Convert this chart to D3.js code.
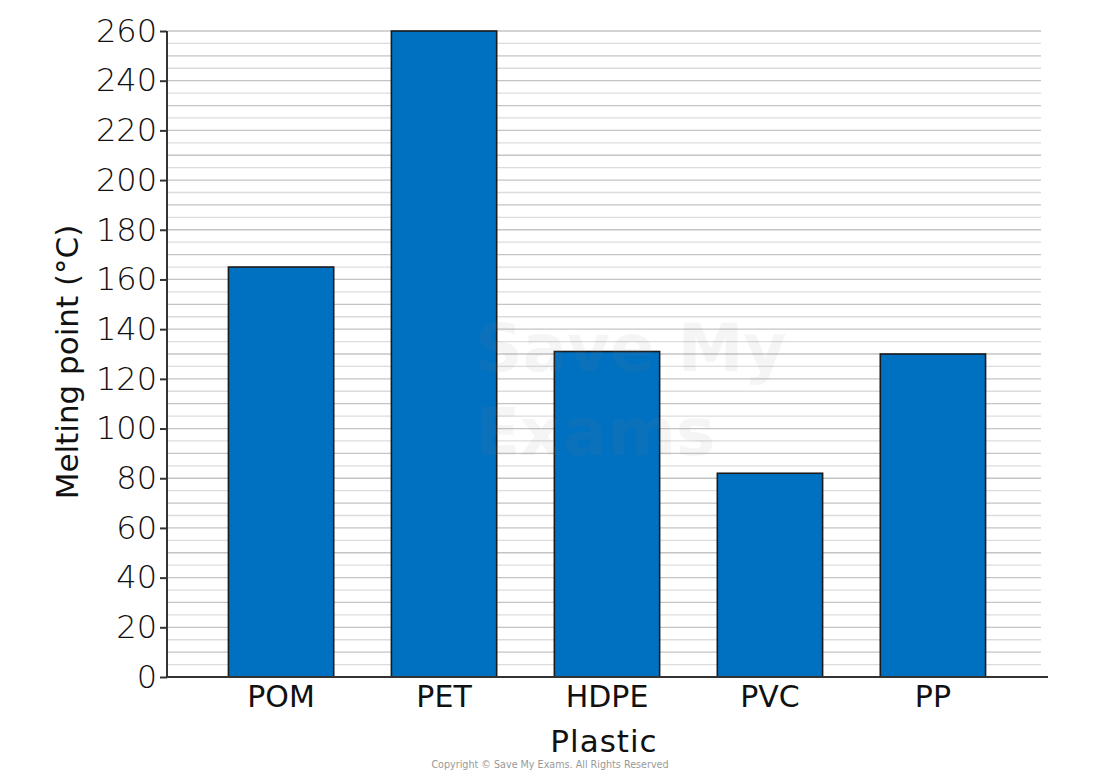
<!DOCTYPE html>
<html>
<head>
<meta charset="utf-8">
<script src="https://cdn.jsdelivr.net/npm/d3@7"></script>
<style>
  body { margin: 0; background: #fff; }
  text { font-family: "DejaVu Sans", sans-serif; }
</style>
</head>
<body>
<div id="wrapper"></div>
<script>
// data
const plastics = ["POM", "PET", "HDPE", "PVC", "PP"]
const meltingPoints = [165, 260, 131, 82, 130]
const yTicks = [0, 20, 40, 60, 80, 100, 120, 140, 160, 180, 200, 220, 240, 260]
const yGrid = d3.range(5, 261, 5)

function drawChart(){
    const dimensions = {
        width: 1100,
        height: 775,
        margin: { top: 31, right: 53, bottom: 98, left: 167 }
    }
    dimensions.boundedWidth = dimensions.width - dimensions.margin.left - dimensions.margin.right
    dimensions.boundedHeight = dimensions.height - dimensions.margin.top - dimensions.margin.bottom

    const svg = d3.select("#wrapper").append("svg")
        .attr("width", dimensions.width)
        .attr("height", dimensions.height)

    const bounds = svg.append("g")
        .attr("transform", `translate(${dimensions.margin.left},${dimensions.margin.top})`)

    const yScale = d3.scaleLinear()
        .domain([0, 260])
        .range([dimensions.boundedHeight, 0])

    const xScale = d3.scaleBand()
        .domain(plastics)
        .range([0, dimensions.boundedWidth])
        .paddingInner(0.354)
        .paddingOuter(0.377)

    // gridlines every 5
    bounds.append("g").selectAll("line")
        .data(yGrid)
        .join("line")
        .attr("x1", 1)
        .attr("x2", dimensions.boundedWidth - 6)
        .attr("y1", d => yScale(d))
        .attr("y2", d => yScale(d))
        .attr("stroke", (d, i) => i % 2 ? "#c4c4c4" : "#dcdcdc")
        .attr("stroke-width", 1.3)

    // bars
    const data = plastics.map((p, i) => ({ name: p, value: meltingPoints[i] }))
    bounds.append("g").selectAll("rect")
        .data(data)
        .join("rect")
        .attr("x", d => xScale(d.name))
        .attr("y", d => yScale(d.value))
        .attr("width", xScale.bandwidth())
        .attr("height", d => dimensions.boundedHeight - yScale(d.value))
        .attr("fill", "#0070c0")
        .attr("stroke", "#1a1a1a")
        .attr("stroke-width", 1.6)

    // watermark
    const wm = bounds.append("g")
        .attr("fill", "#888")
        .attr("opacity", 0.08)
        .style("font-weight", "bold")
        .style("font-size", "66px")
    wm.append("text").attr("x", 308).attr("y", 340).text("Save My")
    wm.append("text").attr("x", 308).attr("y", 424).text("Exams")

    // axes
    const yAxis = bounds.append("g")
        .call(d3.axisLeft(yScale).tickValues(yTicks).tickSize(7).tickPadding(3))
    yAxis.select(".domain").attr("stroke", "#333").attr("stroke-width", 2).attr("d", `M0,${dimensions.boundedHeight}V0`)
    yAxis.selectAll(".tick line").attr("stroke", "#333").attr("stroke-width", 2)
    yAxis.selectAll(".tick text")
        .attr("fill", "#111")
        .style("font-size", "32px")
        .style("font-family", "'DejaVu Sans', sans-serif")
        .style("font-weight", "300")

    const xAxis = bounds.append("g")
        .attr("transform", `translate(0,${dimensions.boundedHeight})`)
        .call(d3.axisBottom(xScale).tickSize(0).tickPadding(9))
    xAxis.select(".domain").attr("stroke", "#333").attr("stroke-width", 2)
        .attr("d", `M0,0H${dimensions.boundedWidth + 1}`)
    xAxis.selectAll(".tick text")
        .attr("fill", "#111")
        .style("font-size", "30px")
        .style("font-family", "'DejaVu Sans', sans-serif")

    // axis titles
    svg.append("text")
        .attr("transform", `translate(78,362) rotate(-90)`)
        .attr("text-anchor", "middle")
        .attr("fill", "#111")
        .style("font-size", "31px")
        .text("Melting point (°C)")

    svg.append("text")
        .attr("x", 604)
        .attr("y", 752)
        .attr("text-anchor", "middle")
        .attr("fill", "#111")
        .style("font-size", "31px")
        .style("letter-spacing", "1px")
        .text("Plastic")

    svg.append("text")
        .attr("x", 550)
        .attr("y", 768)
        .attr("text-anchor", "middle")
        .attr("fill", "#999")
        .style("font-size", "9.6px")
        .text("Copyright © Save My Exams. All Rights Reserved")
}

drawChart()
</script>
</body>
</html>
